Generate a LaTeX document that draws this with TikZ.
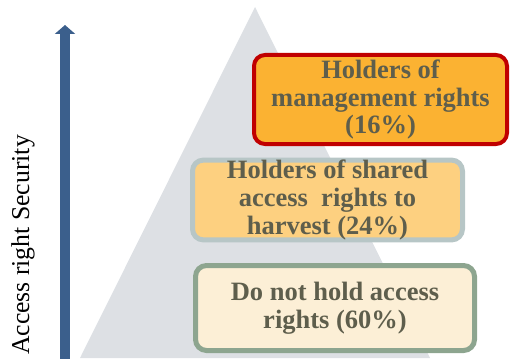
\documentclass[tikz,border=0pt]{standalone}
\usepackage{fontspec}
\setmainfont{Liberation Serif}
\usetikzlibrary{arrows.meta}
\definecolor{trigray}{RGB}{221,224,228}
\definecolor{arrowblue}{RGB}{59,95,140}
\definecolor{txtcol}{RGB}{94,94,76}
\definecolor{fillA}{RGB}{251,178,50}
\definecolor{fillB}{RGB}{253,208,128}
\definecolor{fillC}{RGB}{252,239,214}
\definecolor{lineA}{RGB}{192,0,0}
\definecolor{lineB}{RGB}{183,198,198}
\definecolor{lineC}{RGB}{141,165,143}
\tikzset{
  tierbox/.style={rounded corners=11pt, inner sep=0pt, align=center,
    text=txtcol, font=\fontsize{26.5}{27.8}\selectfont\bfseries}
}
\begin{document}
\begin{tikzpicture}[x=1pt,y=-1pt]
\useasboundingbox (0,0) rectangle (510,358);
\begin{scope}
\clip (0,0) rectangle (510,358);
\fill[trigray] (255,7) -- (80,358) -- (430,358) -- cycle;
\coordinate (abot) at (65,362);
\coordinate (atop) at (65,25);
\draw[arrowblue, line width=10pt, -{Triangle[width=20pt,length=9pt]}] (abot) -- (atop);
\end{scope}
\node[rotate=90, font=\fontsize{25.7}{28}\selectfont, text=black] (lab) at (23,245) {Access right Security};
\node[tierbox, draw=lineA, fill=fillA, line width=4pt, minimum width=253pt, minimum height=89pt] (mgmt) at (380.5,99.5) {Holders of\\management rights\\(16\%)};
\node[tierbox, draw=lineB, fill=fillB, line width=5pt, minimum width=270pt, minimum height=79pt] (shared) at (327.5,200) {Holders of shared\\access\ \ rights to\\harvest (24\%)};
\node[tierbox, draw=lineC, fill=fillC, line width=5pt, minimum width=279pt, minimum height=85pt] (none) at (335,308) {Do not hold access\\rights (60\%)};
\end{tikzpicture}
\end{document}
